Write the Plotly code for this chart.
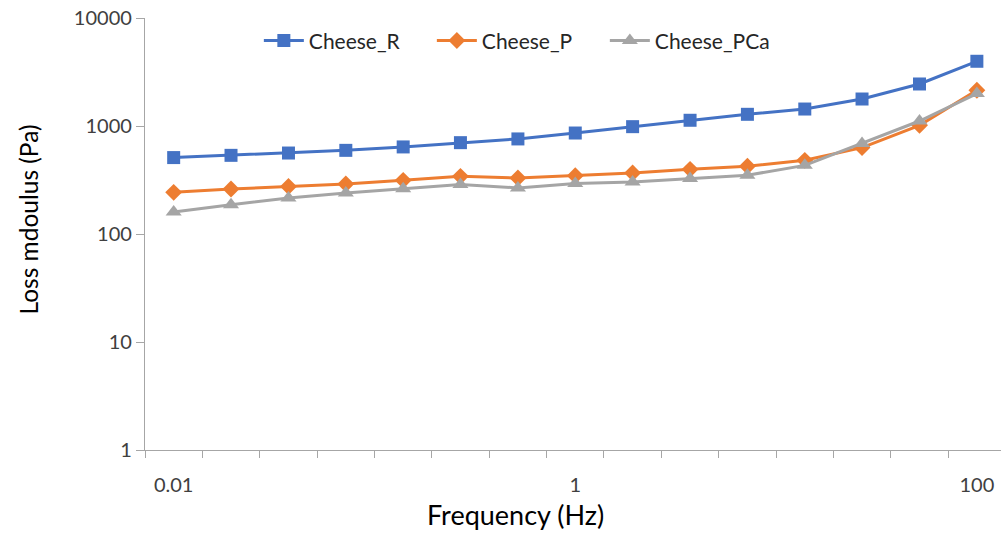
import plotly.graph_objects as go
import math

# Data
frequency = [0.01, 0.0193, 0.0373, 0.0720, 0.139, 0.268, 0.518, 1.0,
             1.93, 3.73, 7.20, 13.9, 26.8, 51.8, 100]
cheese_r = [510, 535, 562, 595, 640, 701, 759, 861, 986, 1130, 1283, 1436, 1778, 2449, 3975]
cheese_p = [243, 261, 275, 290, 314, 342, 330, 347, 367, 397, 424, 481, 631, 1014, 2143]
cheese_pca = [160, 187, 215, 240, 263, 288, 267, 293, 303, 326, 350, 432, 687, 1112, 1995]
x_tick_vals = [0.01, 1, 100]
x_tick_text = ["0.01", "1", "100"]
y_tick_vals = [1, 10, 100, 1000, 10000]
y_tick_text = ["1", "10", "100", "1000", "10000"]

# category-boundary tick marks (geometric midpoints between frequencies)
bounds = [math.sqrt(frequency[i] * frequency[i + 1]) for i in range(len(frequency) - 1)]
bounds = [frequency[0] ** 2 / bounds[0]] + bounds + [frequency[-1] ** 2 / bounds[-1]]

FONT = "Lato"
series = [
    ("Cheese_R", cheese_r, "#4472C4", "square", 13),
    ("Cheese_P", cheese_p, "#ED7D31", "diamond", 13),
    ("Cheese_PCa", cheese_pca, "#A5A5A5", "triangle-up", 14),
]

fig = go.Figure()
for name, vals, color, sym, size in series:
    fig.add_trace(go.Scatter(
        x=frequency, y=vals, name=name, mode="lines+markers",
        line=dict(color=color, width=3),
        marker=dict(symbol=sym, size=size, color=color),
    ))

axis_color = "#A6A6A6"
left_log = math.log10(bounds[0])
px_per_dec = 200.8
right_log = left_log + (1001 - 145) / px_per_dec

fig.update_layout(
    width=1001, height=534,
    margin=dict(l=145, r=0, t=18, b=84),
    paper_bgcolor="white", plot_bgcolor="white",
    font=dict(family=FONT, color="#404040", size=20),
    showlegend=True,
    legend=dict(
        orientation="h", x=0.133, y=0.947, xanchor="left", yanchor="middle",
        font=dict(family=FONT, size=21, color="#262626"),
        bgcolor="rgba(0,0,0,0)", entrywidth=118, entrywidthmode="pixels",
        itemwidth=40,
    ),
    xaxis=dict(
        type="log", range=[left_log, right_log],
        showgrid=False, zeroline=False,
        showline=True, linecolor=axis_color, linewidth=1.3,
        tickmode="array", tickvals=x_tick_vals, ticktext=x_tick_text,
        ticks="", ticklabelstandoff=17,
        tickfont=dict(family=FONT, size=20, color="#404040"),
        minor=dict(tickmode="array", tickvals=bounds, ticks="outside",
                   ticklen=7, tickcolor=axis_color, tickwidth=1.3, showgrid=False),
    ),
    yaxis=dict(
        type="log", range=[0, 4],
        showgrid=False, zeroline=False,
        showline=True, linecolor=axis_color, linewidth=1.3,
        tickmode="array", tickvals=y_tick_vals, ticktext=y_tick_text,
        ticks="outside", ticklen=8, tickcolor=axis_color, tickwidth=1.3,
        tickfont=dict(family=FONT, size=20, color="#404040"),
    ),
    annotations=[
        dict(text="Frequency (Hz)", xref="paper", yref="paper",
             x=(515 - 145) / 856, y=(450 - 514) / 432,
             xanchor="center", yanchor="middle", showarrow=False,
             font=dict(family=FONT, size=27, color="#000000")),
        dict(text="Loss mdoulus (Pa)", xref="paper", yref="paper",
             x=(27.5 - 145) / 856, y=(450 - 220) / 432, textangle=-90,
             xanchor="center", yanchor="middle", showarrow=False,
             font=dict(family=FONT, size=24.5, color="#000000")),
    ],
)

fig.write_html("out.html")
